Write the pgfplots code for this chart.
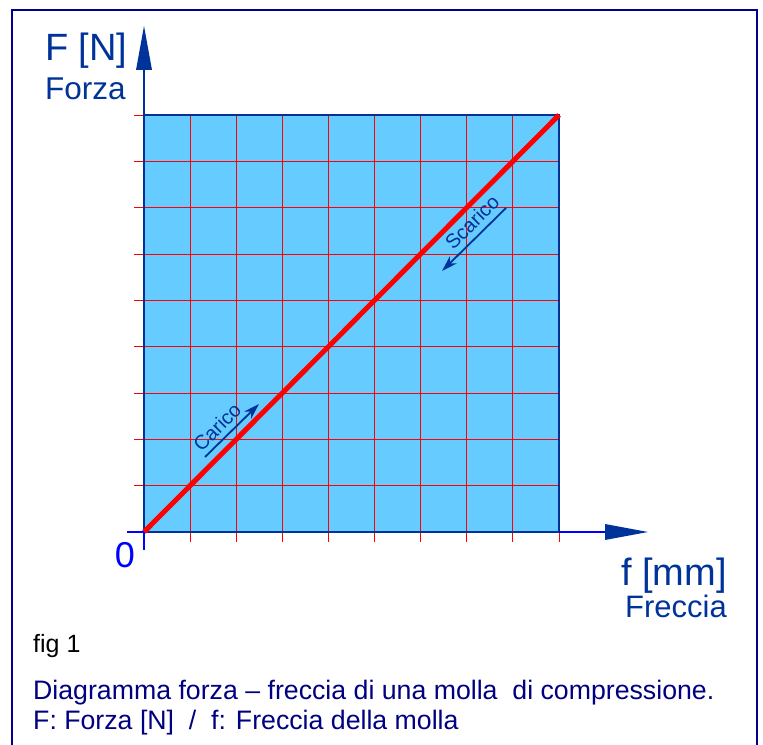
\documentclass[border=0pt]{standalone}
\usepackage{pgfplots}
\pgfplotsset{compat=1.18}
\usepackage{fontspec}
\setmainfont{Liberation Sans}
\usetikzlibrary{arrows.meta}

\definecolor{skyfill}{RGB}{102,204,255}
\definecolor{axisblue}{RGB}{0,51,153}
\definecolor{navy}{RGB}{0,0,128}
\definecolor{frameblue}{RGB}{0,0,140}

\begin{document}
\begin{tikzpicture}[x=1bp,y=1bp]
	\useasboundingbox (0,0) rectangle (763,745);
	% cornice
	\draw[frameblue, line width=2.5bp] (12,-10) -- (12,735) -- (757,735) -- (757,-10);

	\begin{axis}[
		at={(144bp,213bp)}, anchor=origin,
		scale only axis,
		width=415bp, height=417bp,
		xmin=0, xmax=9, ymin=0, ymax=9,
		xtick={0,...,9}, ytick={0,...,9},
		xticklabels={}, yticklabels={},
		xtick pos=left, ytick pos=left,
		tick align=outside,
		major tick length=10bp,
		tick style={red, line width=0.8bp},
		grid=major,
		grid style={red, line width=0.8bp},
		axis background/.style={fill=skyfill},
		axis line style={axisblue, line width=2.5bp},
		clip=false,
	]
	\addplot[red, line width=5bp] coordinates {(0,0) (9,9)};
	\end{axis}

	% prolungamenti degli assi e frecce
	\draw[blue, line width=2.5bp] (127,213) -- (144,213);
	\draw[blue, line width=2.5bp] (559,213) -- (606,213);
	\fill[axisblue] (605,221) -- (648,213) -- (605,205) -- cycle;
	\draw[blue, line width=2.5bp] (144,195) -- (144,213);
	\draw[axisblue, line width=2.5bp] (144,630) -- (144,676);
	\fill[axisblue] (136,675) -- (144,719) -- (152,675) -- cycle;

	% etichette
	\node[anchor=base west, inner sep=0, axisblue, font=\fontsize{38bp}{40bp}\selectfont] at (45,684) {F [N]};
	\node[anchor=base west, inner sep=0, axisblue, font=\fontsize{31.5bp}{34bp}\selectfont] at (45,645) {Forza};
	\node[anchor=base, inner sep=0, blue, font=\fontsize{36bp}{40bp}\selectfont] at (125,177) {0};
	\node[anchor=base east, inner sep=0, axisblue, font=\fontsize{38bp}{42bp}\selectfont] at (727,159) {f [mm]};
	\node[anchor=base east, inner sep=0, axisblue, font=\fontsize{31bp}{34bp}\selectfont] at (727,127) {Freccia};

	% carico / scarico
	\draw[axisblue, line width=1.8bp, -{Stealth[length=16bp,width=10bp]}] (205,288) -- (259,341);
	\node[axisblue, rotate=45, inner sep=0, font=\fontsize{20bp}{22bp}\selectfont] at (217,318) {Carico};
	\draw[axisblue, line width=1.8bp, -{Stealth[length=16bp,width=10bp]}] (506,537) -- (442,474);
	\node[axisblue, rotate=45, inner sep=0, font=\fontsize{20bp}{22bp}\selectfont] at (472,523) {Scarico};

	% didascalia
	\node[anchor=base west, inner sep=0, black, font=\fontsize{25bp}{28bp}\selectfont] at (33,92) {fig 1};
	\node[anchor=base west, inner sep=0, navy, font=\fontsize{26.7bp}{30bp}\selectfont] at (33,45) {Diagramma forza – freccia di una molla \ di compressione.};
	\node[anchor=base west, inner sep=0, navy, font=\fontsize{26.7bp}{30bp}\selectfont] at (33,15) {F: Forza [N] \ / \ f: Freccia della molla};
\end{tikzpicture}
\end{document}
